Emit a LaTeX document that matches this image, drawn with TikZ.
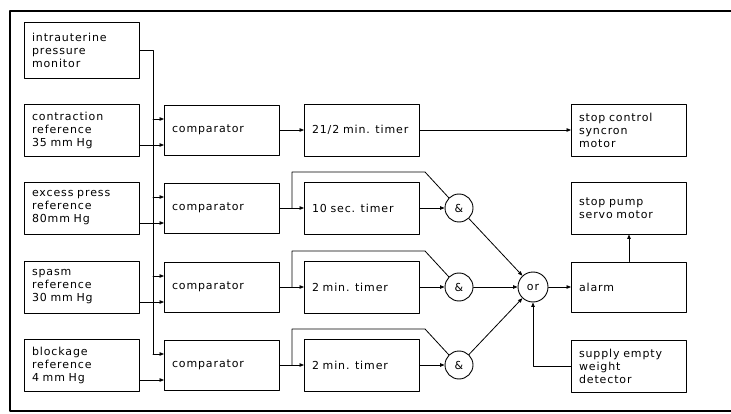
\documentclass[tikz,border=0pt]{standalone}
\usepackage{fontspec}
\setmainfont{DejaVu Sans}[LetterSpace=8]
\usetikzlibrary{arrows.meta,positioning,calc}

\begin{document}
\begin{tikzpicture}[x=1pt,y=-1pt,>={Triangle[length=4.5pt,width=3.5pt]},line cap=round,line join=round,
    every node/.style={font=\fontsize{11}{13}\selectfont,inner sep=1pt},
    unit/.style={draw,line width=0.9pt,minimum width=115pt,minimum height=52pt,text width=100pt,align=left},
    gate/.style={draw,circle,line width=0.9pt,minimum size=28pt,inner sep=0pt},
    wire/.style={line width=0.8pt}]
    \useasboundingbox (0,0) rectangle (731,414);
    \draw[line width=1.6pt] (731,11) -- (10,11) -- (10,411) -- (731,411);
    % sensor and reference boxes
    \node[unit,minimum height=56pt] (mon) at (82,50) {intrauterine\\pressure\\monitor};
    \foreach \i/\y/\lab in {1/130/{contraction\\reference\\35 mm Hg},2/208/{excess press\\reference\\80mm Hg},
        3/287/{spasm\\reference\\30 mm Hg},4/365/{blockage\\reference\\4 mm Hg}} {
        \node[unit] (ref\i) at (82,\y) {\lab};
    }
    % comparators and timers
    \foreach \i/\y/\lab in {1/130/{21/2 min. timer},2/208/{10 sec. timer},3/287/{2 min. timer},4/365/{2 min. timer}} {
        \node[unit,minimum height=50pt] (cmp\i) at (222,\y) {comparator};
        \node[unit] (tmr\i) at (362,\y) {\lab};
    }
    \foreach \i/\y in {2/208,3/287,4/365} {
        \node[gate] (g\i) at (459,\y) {\&};
    }
    \node[gate,minimum size=30pt] (orgate) at (533,287) {or};
    % outputs
    \node[unit] (stc) at (629,130) {stop control\\syncron\\motor};
    \node[unit] (spm) at (629,208) {stop pump\\servo motor};
    \node[unit,minimum height=50pt] (alm) at (629,287) {alarm};
    \node[unit] (sup) at (629,366) {supply empty\\weight\\detector};
    % pressure bus
    \coordinate (bus) at (153,50);
    \draw[wire] (mon.east) -- (bus) -- ([yshift=11pt]cmp4.west -| bus);
    \foreach \i in {1,...,4} {
        \draw[wire,->] ([yshift=11pt]cmp\i.west -| bus) -- ([yshift=11pt]cmp\i.west);
        \draw[wire,->] ([yshift=-15pt]cmp\i.west -| ref\i.east) -- ([yshift=-15pt]cmp\i.west);
        \draw[wire,->] (cmp\i.east) -- (tmr\i.west);
    }
    \foreach \i in {2,3,4} {
        \draw[wire] ($(cmp\i.east)!.5!(tmr\i.west)$) -- ++(0,-36) -- ++(133,0) -- (g\i.north west);
        \draw[wire,->] (tmr\i.east) -- (g\i.west);
        \draw[wire,->] (g\i) -- (orgate);
    }
    \draw[wire,->] (tmr1.east) -- (stc.west);
    \draw[wire,->] (orgate) -- (alm.west);
    \draw[wire,->] (alm.north) -- (spm.south);
    \draw[wire,->] (sup.west) -| (orgate.south);
\end{tikzpicture}
\end{document}
